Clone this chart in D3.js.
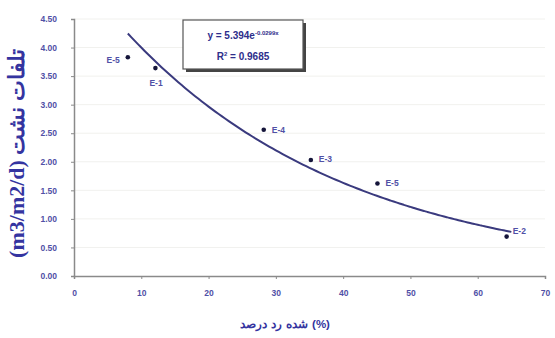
<!DOCTYPE html>
<html>
<head>
<meta charset="utf-8">
<script src="https://cdn.jsdelivr.net/npm/d3@7"></script>
<style>
  body { margin: 0; background: #fff; }
  svg { display: block; }
</style>
</head>
<body>
<script>
// data
const stations = ["E-5", "E-1", "E-4", "E-3", "E-5", "E-2"];
const rejection = [8, 12.1, 28.2, 35.2, 45.1, 64.3];
const loss = [3.83, 3.64, 2.56, 2.03, 1.62, 0.69];

const xTicks = [0, 10, 20, 30, 40, 50, 60, 70];
const yTicks = [0, 0.5, 1, 1.5, 2, 2.5, 3, 3.5, 4, 4.5];

// words of the x title, in the left-to-right order they appear
const xTitleWords = ["درصد", "رد", "شده", "(%)"];
const yTitle = "(m3/m2/d) تلفات نشت";

// exponential trendline as printed in the chart
const trendA = 5.394;
const trendB = -0.0299;
const trendR2 = 0.9685;
const trendFrom = 8, trendTo = 65;

const width = 555, height = 338;

const x = d3.scaleLinear().domain([0, 70]).range([74, 545]);
const y = d3.scaleLinear().domain([0, 4.5]).range([276, 19]);

const tickColor = "#5050a6";
const titleColor = "#3434a0";

const svg = d3.select("body").append("svg")
  .attr("width", width)
  .attr("height", height)
  .style("font-family", "Arial, 'Liberation Sans', sans-serif");

// faint grid
svg.append("g")
  .selectAll("line")
  .data(yTicks.slice(1))
  .join("line")
  .attr("x1", x(0)).attr("x2", x(70))
  .attr("y1", d => y(d)).attr("y2", d => y(d))
  .attr("stroke", "#f1f1ee")
  .attr("stroke-width", 1);

// axes
const xAxis = svg.append("g")
  .attr("transform", `translate(0,${y(0)})`)
  .call(d3.axisBottom(x).tickValues(xTicks).tickSize(3).tickFormat(d3.format("d")));
const yAxis = svg.append("g")
  .attr("transform", `translate(${x(0)},0)`)
  .call(d3.axisLeft(y).tickValues(yTicks).tickSize(3).tickFormat(d3.format(".2f")));

[xAxis, yAxis].forEach(g => {
  g.select(".domain").attr("stroke", "#8a8a8a").attr("stroke-width", 1.5);
  g.selectAll(".tick line").attr("stroke", "#8a8a8a");
  g.selectAll(".tick text")
    .attr("fill", tickColor)
    .style("font-size", "8.5px")
    .style("font-weight", "bold");
});
xAxis.selectAll(".tick text").attr("dy", "1.6em");
yAxis.selectAll(".tick text").attr("x", -17);

// trendline
const curveX = d3.range(trendFrom, trendTo + 0.01, 0.5);
const line = d3.line()
  .x(d => x(d))
  .y(d => y(trendA * Math.exp(trendB * d)))
  .curve(d3.curveMonotoneX);
svg.append("path")
  .datum(curveX)
  .attr("d", line)
  .attr("fill", "none")
  .attr("stroke", "#3a3a7e")
  .attr("stroke-width", 2);

// points
const pts = stations.map((s, i) => ({ name: s, x: rejection[i], y: loss[i] }));
svg.append("g")
  .selectAll("circle")
  .data(pts)
  .join("circle")
  .attr("cx", d => x(d.x))
  .attr("cy", d => y(d.y))
  .attr("r", 2.3)
  .attr("fill", "#15153a");

// point labels: offsets relative to each marker
const labelOffsets = [[-8, 3, "end"], [-6, 15, "start"], [8, 0, "start"], [8, -1, "start"], [8, 0, "start"], [6, -5, "start"]];
svg.append("g")
  .selectAll("text")
  .data(pts)
  .join("text")
  .attr("x", (d, i) => x(d.x) + labelOffsets[i][0])
  .attr("y", (d, i) => y(d.y) + labelOffsets[i][1])
  .attr("dy", "0.32em")
  .attr("text-anchor", (d, i) => labelOffsets[i][2])
  .attr("fill", tickColor)
  .style("font-size", "8.5px")
  .style("font-weight", "bold")
  .text(d => d.name);

// equation box
const box = svg.append("g").attr("transform", "translate(183,20)");
box.append("rect")
  .attr("x", 3).attr("y", 3)
  .attr("width", 120).attr("height", 49)
  .attr("fill", "#444");
box.append("rect")
  .attr("width", 120).attr("height", 49)
  .attr("fill", "#fff")
  .attr("stroke", "#555")
  .attr("stroke-width", 1.2);
const eq = box.append("text")
  .attr("x", 60).attr("y", 19)
  .attr("text-anchor", "middle")
  .attr("fill", "#2e2e8c")
  .style("font-size", "10px")
  .style("font-weight", "bold");
eq.append("tspan").text(`y = ${trendA}e`);
eq.append("tspan")
  .attr("dy", -4)
  .style("font-size", "6px")
  .text(`${trendB}x`);
const r2 = box.append("text")
  .attr("x", 60).attr("y", 40)
  .attr("text-anchor", "middle")
  .attr("fill", "#2e2e8c")
  .style("font-size", "10px")
  .style("font-weight", "bold");
r2.append("tspan").text("R");
r2.append("tspan").attr("dy", -4).style("font-size", "6px").text("2");
r2.append("tspan").attr("dy", 4).text(` = ${trendR2}`);

// y title
svg.append("text")
  .attr("transform", `translate(24,${(y(0) + y(4.5)) / 2 + 6}) rotate(-90)`)
  .attr("text-anchor", "middle")
  .attr("fill", titleColor)
  .style("font-family", "'Liberation Serif', 'DejaVu Serif', serif")
  .style("font-size", "22px")
  .style("font-weight", "bold")
  .text(yTitle);

// x title: each word placed on its own so the visual order is kept
const xTitle = svg.append("g");
const words = xTitle.selectAll("text")
  .data(xTitleWords)
  .join("text")
  .attr("y", 328)
  .attr("fill", titleColor)
  .style("font-size", "11.5px")
  .style("font-weight", "bold")
  .text(d => d);
const gap = 4;
let cursor = 0;
words.each(function () {
  d3.select(this).attr("x", cursor);
  cursor += this.getComputedTextLength() + gap;
});
const totalW = cursor - gap;
xTitle.attr("transform", `translate(${285 - totalW / 2},0)`);
</script>
</body>
</html>
